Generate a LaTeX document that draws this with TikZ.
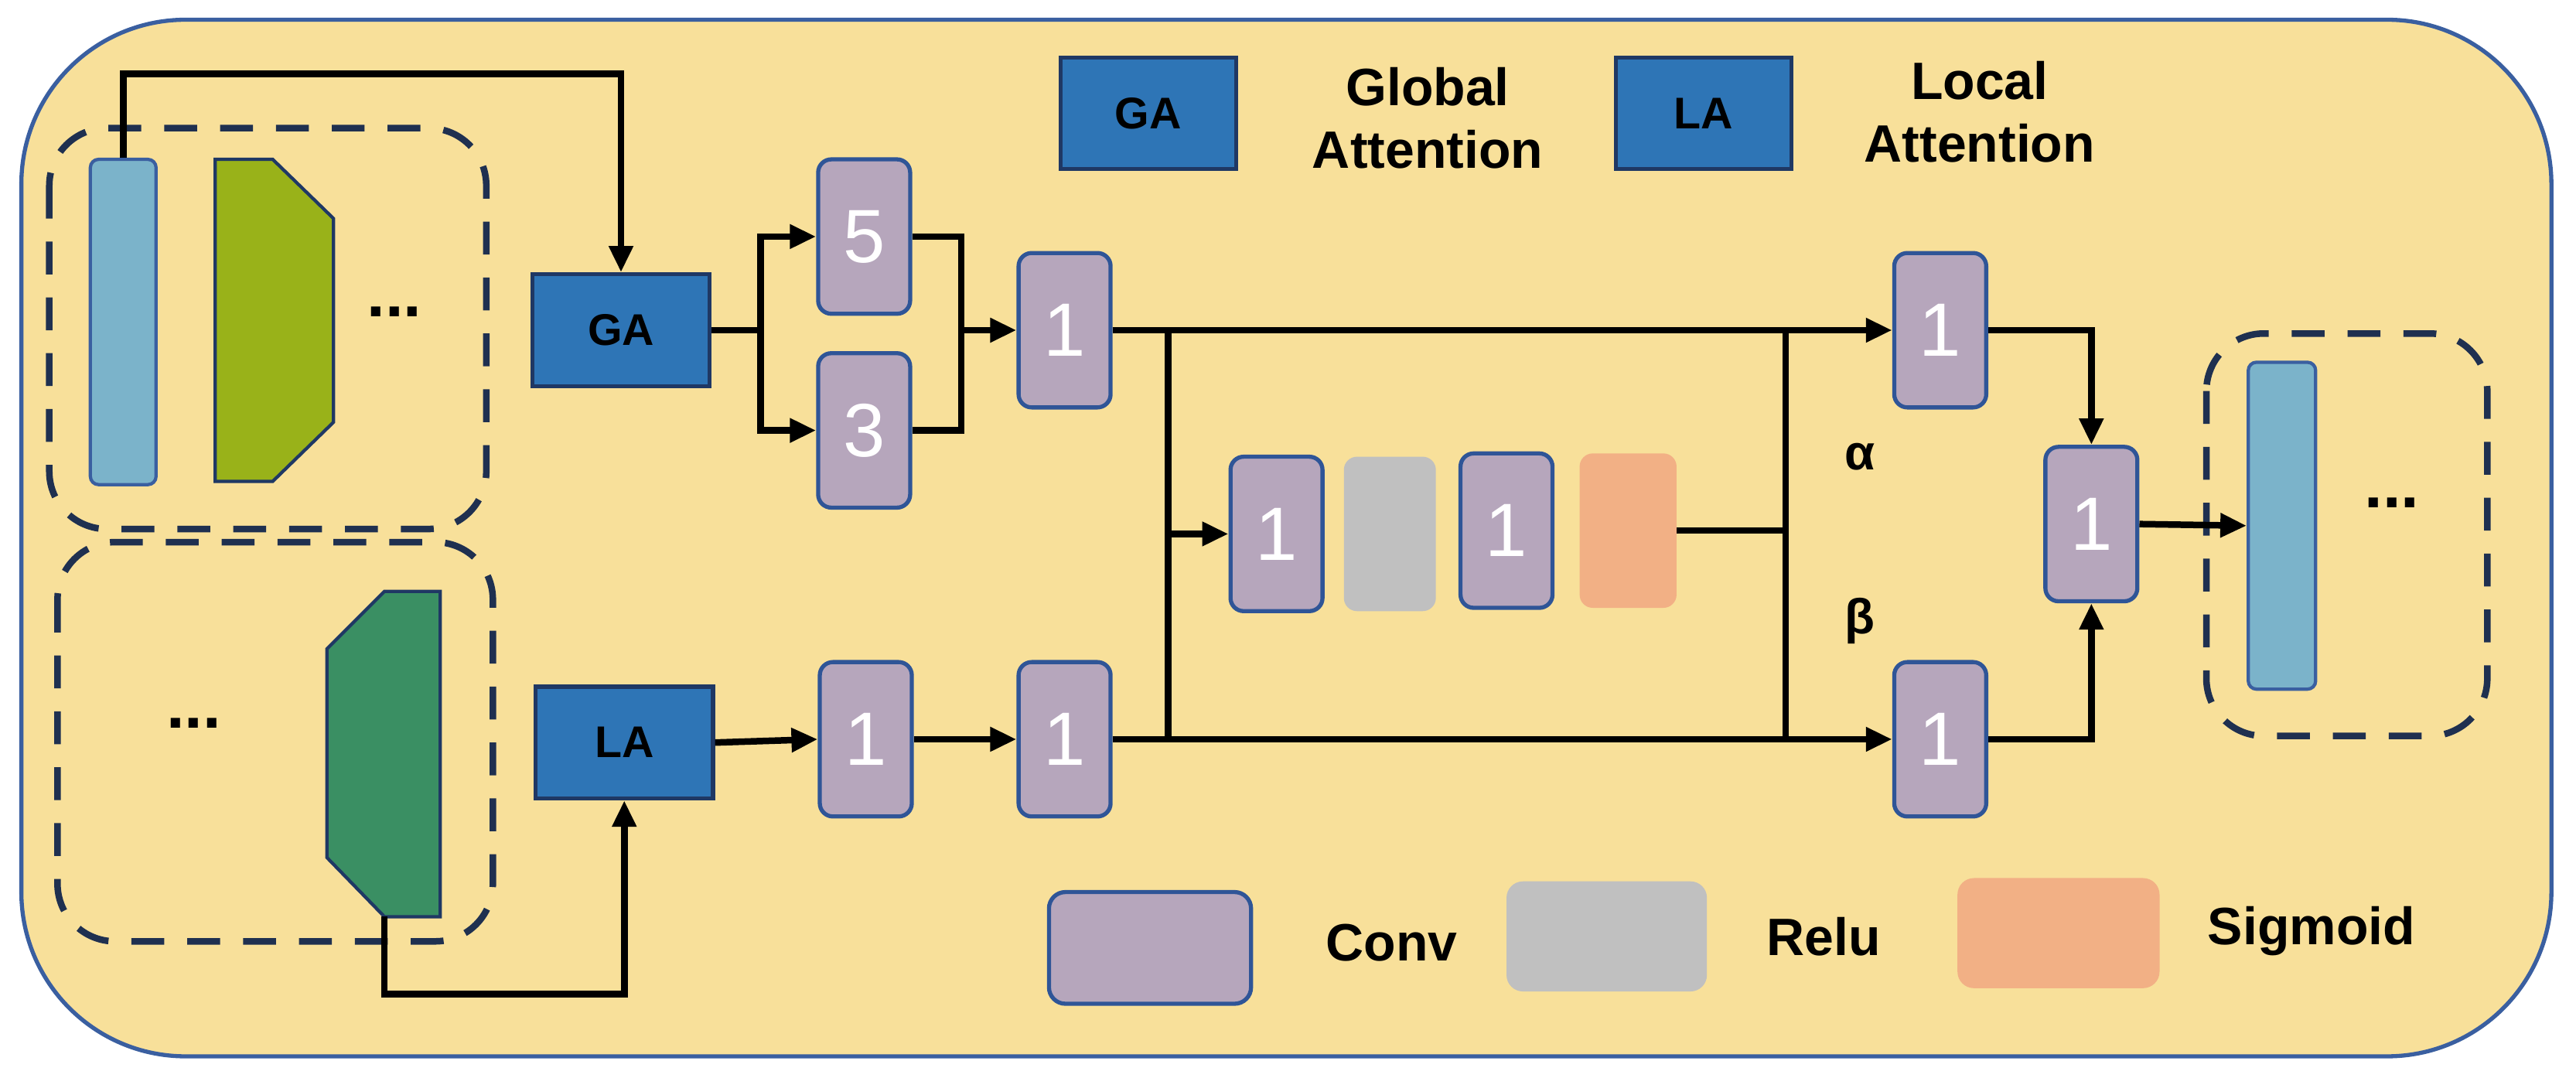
\documentclass[tikz,border=0pt]{standalone}
\usepackage{fontspec}
\setmainfont{Liberation Sans}
\usetikzlibrary{arrows.meta}
\definecolor{bg}{HTML}{F8E09A}
\definecolor{bgb}{HTML}{3A5FA0}
\definecolor{convf}{HTML}{B6A6BC}
\definecolor{convb}{HTML}{2F5597}
\definecolor{relu}{HTML}{C0C0C0}
\definecolor{sigm}{HTML}{F2B085}
\definecolor{att}{HTML}{2E75B6}
\definecolor{attb}{HTML}{1F3864}
\definecolor{lblue}{HTML}{7BB3CA}
\definecolor{olive}{HTML}{99B219}
\definecolor{dgreen}{HTML}{3A8F63}
\definecolor{dash}{HTML}{1F3050}
\tikzset{
 conv/.style={draw=convb,fill=convf,line width=2.5pt,rounded corners=8pt,minimum width=56pt,minimum height=94pt,inner sep=0pt,text=white,font=\fontsize{46}{46}\selectfont},
 att/.style={draw=attb,fill=att,line width=2.5pt,minimum width=108pt,minimum height=68pt,inner sep=0pt,font=\fontsize{27}{27}\selectfont\bfseries},
 dbox/.style={draw=dash,line width=4pt,dash pattern=on 20pt off 14pt,rounded corners=35pt},
 ln/.style={line width=4pt},
 ar/.style={line width=4pt,-{Triangle[length=16pt,width=14pt]}},
 lab/.style={font=\fontsize{32}{38}\selectfont\bfseries,align=center},
}
\begin{document}
\begin{tikzpicture}[x=1pt,y=-1pt]
\useasboundingbox (0,0) rectangle (1568,656);
\draw[fill=bg,draw=bgb,line width=2.5pt,rounded corners=100pt] (13,12) rectangle (1553,643);
% dashed boxes
\draw[dbox] (30,78) rectangle (296,322);
\draw[dbox] (35,330) rectangle (300,573);
\draw[dbox] (1343,203) rectangle (1514,448);
% features
\node[draw=bgb,fill=lblue,line width=2pt,rounded corners=5pt,minimum width=40pt,minimum height=198pt,inner sep=0pt] (bar1) at (75,196) {};
\draw[draw=attb,fill=olive,line width=2pt] (131,97) -- (166,97) -- (203,133) -- (203,257) -- (166,293) -- (131,293) -- cycle;
\node[font=\fontsize{40}{40}\selectfont\bfseries] (d1) at (240,190) {...};
\draw[draw=attb,fill=dgreen,line width=2pt] (268,360) -- (234,360) -- (199,395) -- (199,522) -- (234,558) -- (268,558) -- cycle;
\coordinate (gbot) at (234,558);
\node[font=\fontsize{40}{40}\selectfont\bfseries] (d2) at (118,440) {...};
\node[draw=bgb,fill=lblue,line width=2pt,rounded corners=5pt,minimum width=41pt,minimum height=199pt,inner sep=0pt] (bar2) at (1389,320) {};
\node[font=\fontsize{40}{40}\selectfont\bfseries] (d3) at (1456,306) {...};
% attention
\node[att] (GA) at (378,201) {GA};
\node[att] (LA) at (380,452) {LA};
\draw[ar] (bar1.north) |- (75,45) -| (GA.north);
\draw[ar] (gbot) -- (234,605) -| (LA.south);
% convs
\node[conv] (c5) at (526,144) {5};
\node[conv] (c3) at (526,262) {3};
\node[conv] (ca) at (648,201) {1};
\node[conv] (cb) at (527,450) {1};
\node[conv] (cc) at (648,450) {1};
\node[conv] (ce) at (777,325) {1};
\node[draw=none,fill=relu,rounded corners=8pt,minimum width=56pt,minimum height=94pt] (relu) at (846,325) {};
\node[conv] (cf) at (917,323) {1};
\node[draw=none,fill=sigm,rounded corners=8pt,minimum width=59pt,minimum height=94pt] (sig) at (991,323) {};
\node[conv] (cd) at (1181,201) {1};
\node[conv] (cg) at (1181,450) {1};
\node[conv] (ch) at (1273,319) {1};
% connectors
\coordinate (s1) at (463,201);
\draw[ln] (GA.east) -- (s1);
\draw[ar] (s1) |- (c5.west);
\draw[ar] (s1) |- (c3.west);
\coordinate (m1) at (585,201);
\draw[ln] (c5.east) -| (m1) |- (c3.east);
\draw[ar] (m1) -- (ca.west);
\draw[ar] (LA.east) -- (cb.west);
\draw[ar] (cb.east) -- (cc.west);
\draw[ar] (ca.east) -- (cd.west);
\draw[ar] (cc.east) -- (cg.west);
\coordinate (l1) at (711,201);
\coordinate (l2) at (711,450);
\draw[ln] (l1) -- (l2);
\draw[ar] (711,325) -- (ce.west);
\coordinate (r1) at (1087,201);
\coordinate (r2) at (1087,450);
\draw[ln] (r1) -- (r2);
\draw[ln] (sig.east) -- (1087,323);
\draw[ar] (cd.east) -| (ch.north);
\draw[ar] (cg.east) -| (ch.south);
\draw[ar] (ch.east) -- (bar2.west);
\node[font=\fontsize{30}{30}\selectfont\bfseries] (al) at (1132,278) {α};
\node[font=\fontsize{30}{30}\selectfont\bfseries] (be) at (1132,378) {β};
% legends
\node[att,minimum width=107pt] (lg1) at (699,69) {GA};
\node[lab] (t1) at (869,72) {Global\\Attention};
\node[att,minimum width=107pt] (lg2) at (1037,69) {LA};
\node[lab] (t2) at (1205,68) {Local\\Attention};
\node[draw=convb,fill=convf,line width=2.5pt,rounded corners=10pt,minimum width=123pt,minimum height=68pt] (lg3) at (700,577) {};
\node[lab] (t3) at (847,574) {Conv};
\node[fill=relu,rounded corners=10pt,minimum width=122pt,minimum height=67pt] (lg4) at (978,570) {};
\node[lab] (t4) at (1110,570) {Relu};
\node[fill=sigm,rounded corners=10pt,minimum width=123pt,minimum height=67pt] (lg5) at (1253,568) {};
\node[lab] (t5) at (1407,567) {Sigmoid};
\end{tikzpicture}
\end{document}
